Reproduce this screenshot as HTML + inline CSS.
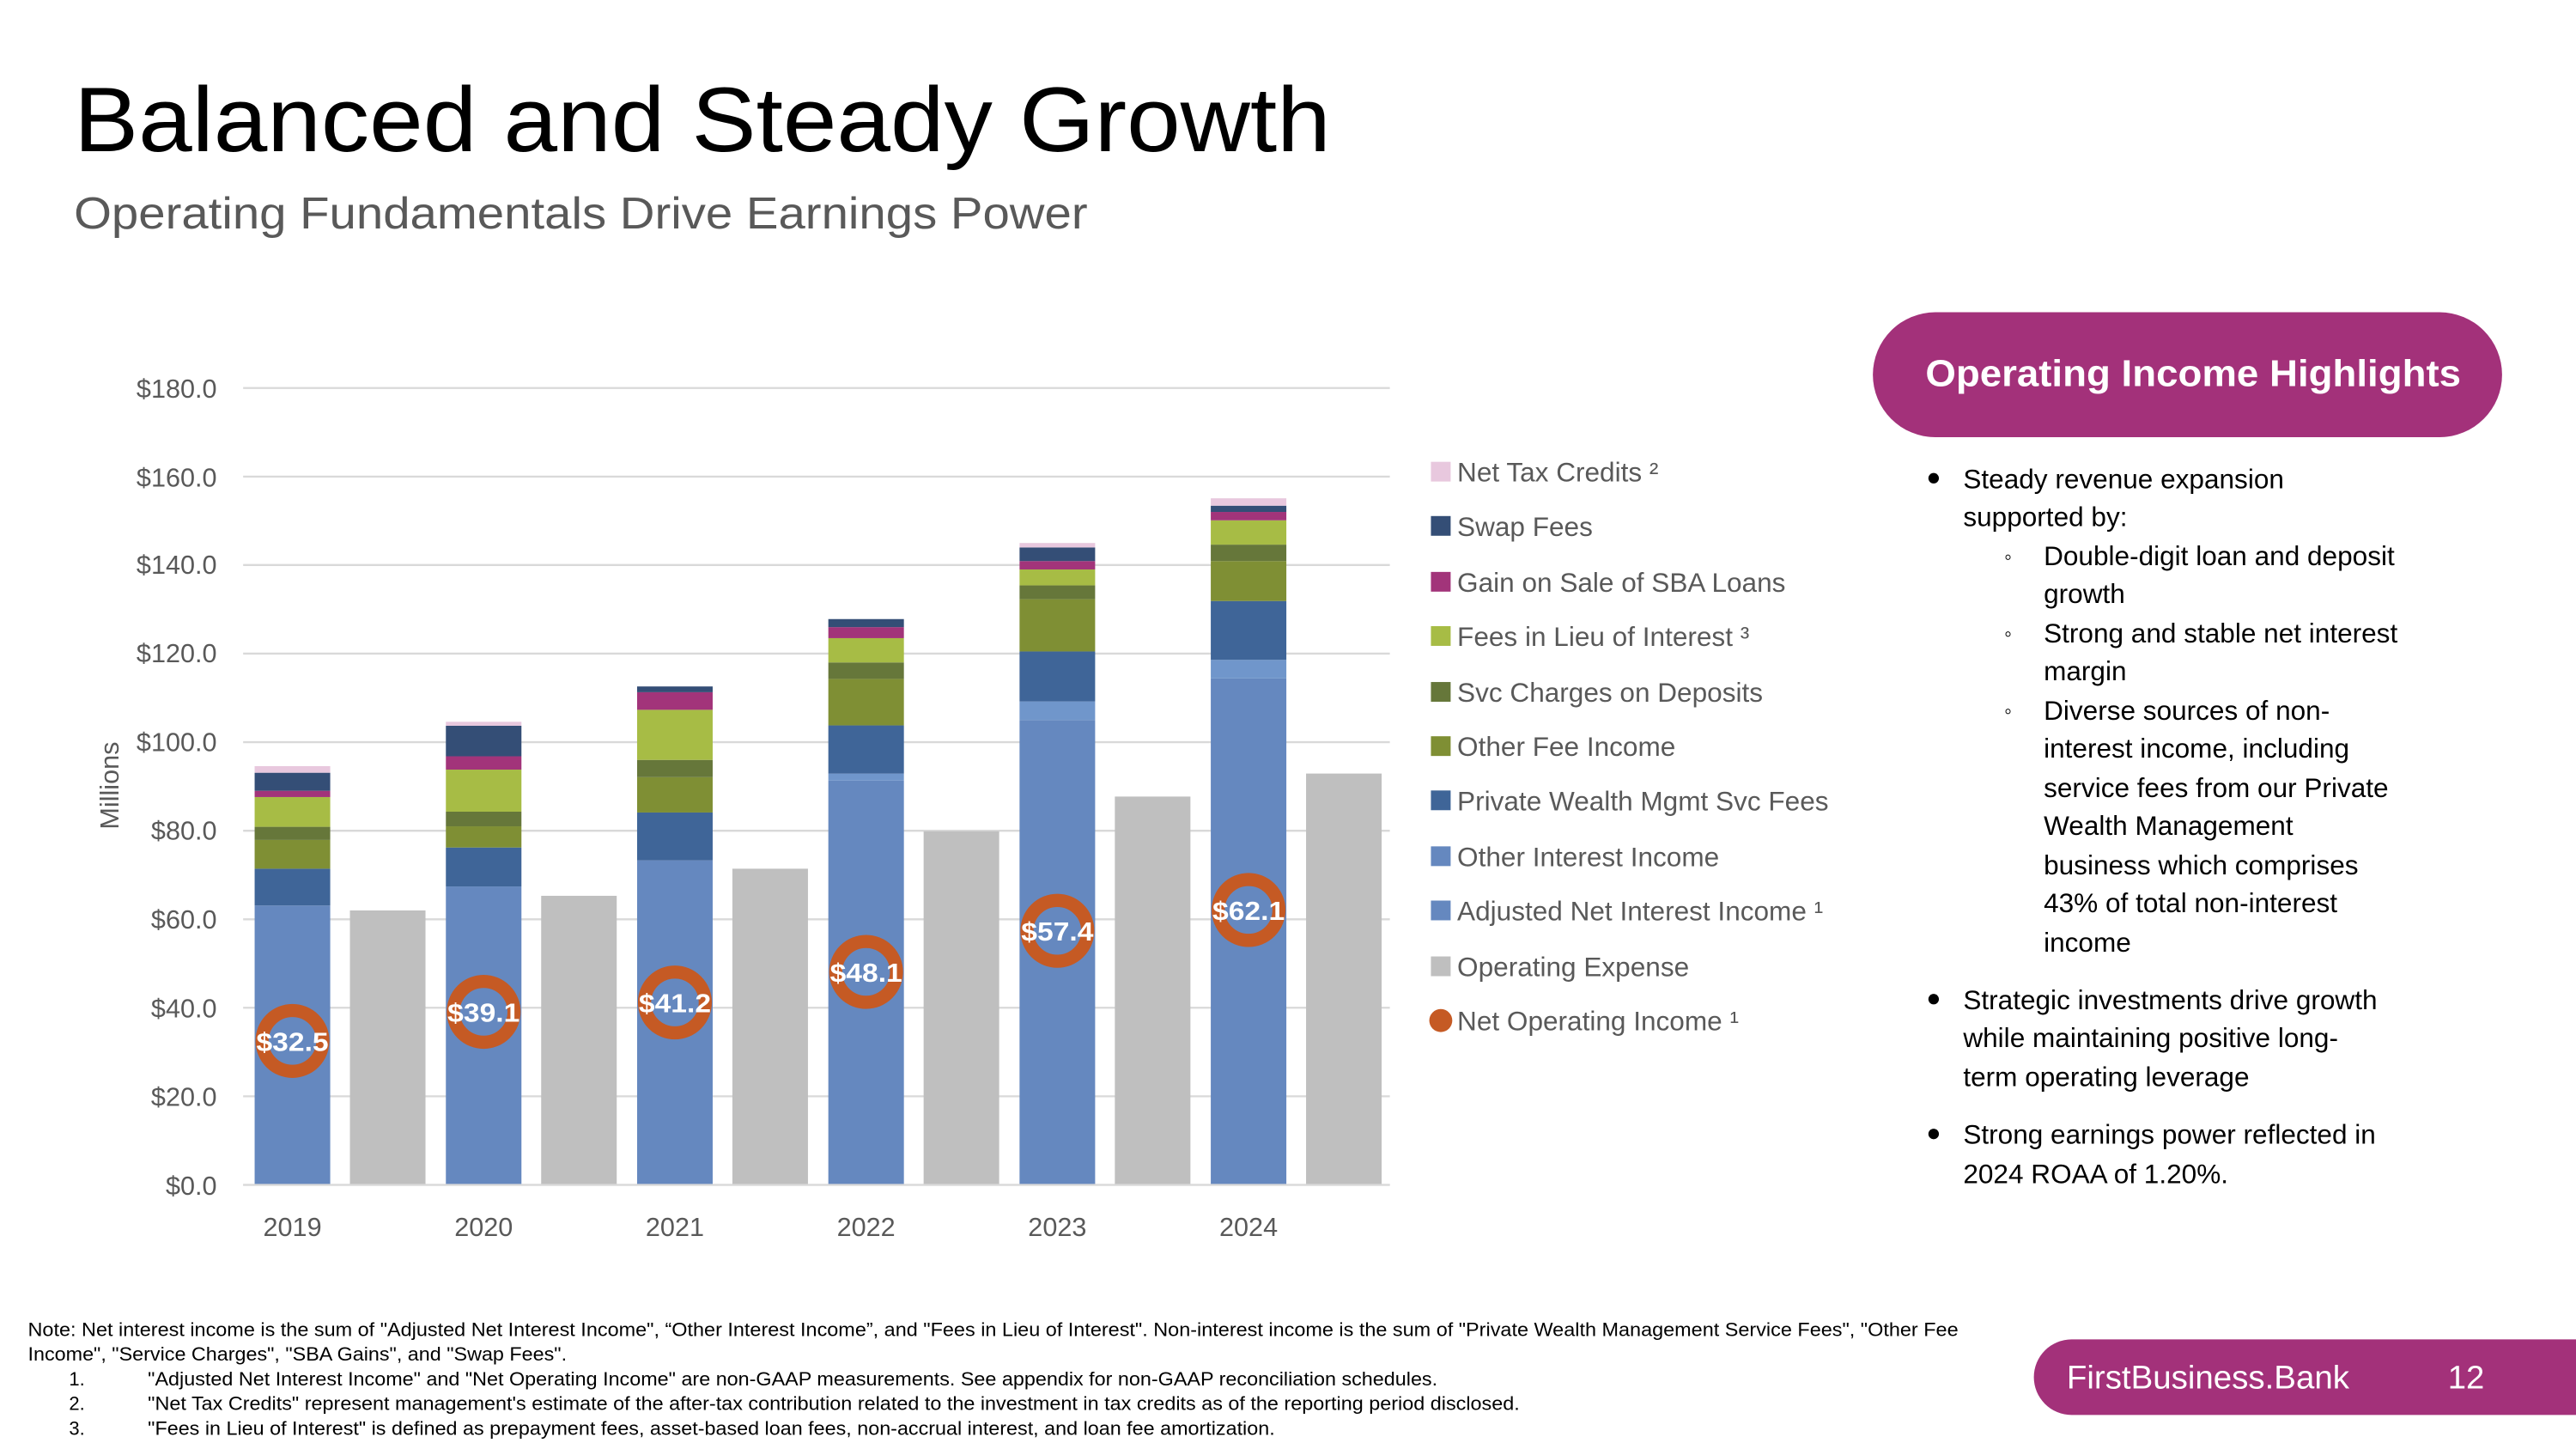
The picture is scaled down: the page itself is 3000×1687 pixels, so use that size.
<!DOCTYPE html>
<html><head><meta charset="utf-8"><style>
html,body{margin:0;padding:0;background:#fff;}
svg{display:block;}
text{font-family:"Liberation Sans",sans-serif;}
</style></head><body>
<svg width="3000" height="1687" viewBox="0 0 1568 881.7" xmlns="http://www.w3.org/2000/svg">
<rect width="1568" height="882" fill="#fff"/>
<text x="45" y="92" font-size="56" fill="#000" textLength="765" lengthAdjust="spacingAndGlyphs">Balanced and Steady Growth</text>
<text x="45" y="139" font-size="27" fill="#595959" textLength="617" lengthAdjust="spacingAndGlyphs">Operating Fundamentals Drive Earnings Power</text>

<g stroke="#d9d9d9" stroke-width="1.2">
<line x1="148" x2="846" y1="667.1" y2="667.1"/><line x1="148" x2="846" y1="613.2" y2="613.2"/>
<line x1="148" x2="846" y1="559.4" y2="559.4"/><line x1="148" x2="846" y1="505.5" y2="505.5"/>
<line x1="148" x2="846" y1="451.6" y2="451.6"/><line x1="148" x2="846" y1="397.7" y2="397.7"/>
<line x1="148" x2="846" y1="343.8" y2="343.8"/><line x1="148" x2="846" y1="290" y2="290"/>
<line x1="148" x2="846" y1="236.1" y2="236.1"/><line x1="148" x2="846" y1="721" y2="721"/>
</g>
<g font-size="16" fill="#595959" text-anchor="end">
<text x="132" y="727">$0.0</text><text x="132" y="673">$20.0</text><text x="132" y="619">$40.0</text>
<text x="132" y="565">$60.0</text><text x="132" y="511">$80.0</text><text x="132" y="457">$100.0</text>
<text x="132" y="403">$120.0</text><text x="132" y="349">$140.0</text><text x="132" y="296">$160.0</text>
<text x="132" y="242">$180.0</text>
</g>
<text transform="translate(72,478) rotate(-90)" font-size="16" fill="#595959" text-anchor="middle">Millions</text>
<g font-size="16" fill="#595959" text-anchor="middle">
<text x="178" y="752">2019</text><text x="294.4" y="752">2020</text><text x="410.8" y="752">2021</text>
<text x="527.2" y="752">2022</text><text x="643.6" y="752">2023</text><text x="760" y="752">2024</text>
</g>

<g>
<rect x="155" y="551" width="46" height="170" fill="#6588BF"/>
<rect x="155" y="528.6" width="46" height="22.4" fill="#3F6598"/>
<rect x="155" y="511.1" width="46" height="17.5" fill="#7F8F34"/>
<rect x="155" y="503.1" width="46" height="8" fill="#66773A"/>
<rect x="155" y="485" width="46" height="18.1" fill="#A7BC45"/>
<rect x="155" y="481.2" width="46" height="3.8" fill="#A2347A"/>
<rect x="155" y="470.2" width="46" height="11" fill="#344E76"/>
<rect x="155" y="466.2" width="46" height="4" fill="#E8C8DE"/>
<rect x="271.4" y="539.4" width="46" height="181.6" fill="#6588BF"/>
<rect x="271.4" y="515.7" width="46" height="23.7" fill="#3F6598"/>
<rect x="271.4" y="502.8" width="46" height="12.9" fill="#7F8F34"/>
<rect x="271.4" y="493.9" width="46" height="8.9" fill="#66773A"/>
<rect x="271.4" y="468.3" width="46" height="25.6" fill="#A7BC45"/>
<rect x="271.4" y="460.2" width="46" height="8.1" fill="#A2347A"/>
<rect x="271.4" y="441.6" width="46" height="18.6" fill="#344E76"/>
<rect x="271.4" y="439.2" width="46" height="2.4" fill="#E8C8DE"/>
<rect x="387.8" y="523.5" width="46" height="197.5" fill="#6588BF"/>
<rect x="387.8" y="494.4" width="46" height="29.1" fill="#3F6598"/>
<rect x="387.8" y="472.9" width="46" height="21.5" fill="#7F8F34"/>
<rect x="387.8" y="462.4" width="46" height="10.5" fill="#66773A"/>
<rect x="387.8" y="431.9" width="46" height="30.5" fill="#A7BC45"/>
<rect x="387.8" y="421.2" width="46" height="10.7" fill="#A2347A"/>
<rect x="387.8" y="417.7" width="46" height="3.5" fill="#344E76"/>
<rect x="504.2" y="475" width="46" height="246" fill="#6588BF"/>
<rect x="504.2" y="470.7" width="46" height="4.3" fill="#7096CB"/>
<rect x="504.2" y="441.4" width="46" height="29.3" fill="#3F6598"/>
<rect x="504.2" y="413.1" width="46" height="28.3" fill="#7F8F34"/>
<rect x="504.2" y="403.1" width="46" height="10" fill="#66773A"/>
<rect x="504.2" y="388.3" width="46" height="14.8" fill="#A7BC45"/>
<rect x="504.2" y="381.6" width="46" height="6.7" fill="#A2347A"/>
<rect x="504.2" y="376.7" width="46" height="4.9" fill="#344E76"/>
<rect x="620.6" y="438.1" width="46" height="282.9" fill="#6588BF"/>
<rect x="620.6" y="426.8" width="46" height="11.3" fill="#7096CB"/>
<rect x="620.6" y="396.4" width="46" height="30.4" fill="#3F6598"/>
<rect x="620.6" y="364.6" width="46" height="31.8" fill="#7F8F34"/>
<rect x="620.6" y="356.2" width="46" height="8.4" fill="#66773A"/>
<rect x="620.6" y="346.5" width="46" height="9.7" fill="#A7BC45"/>
<rect x="620.6" y="341.4" width="46" height="5.1" fill="#A2347A"/>
<rect x="620.6" y="333.1" width="46" height="8.3" fill="#344E76"/>
<rect x="620.6" y="330.4" width="46" height="2.7" fill="#E8C8DE"/>
<rect x="737" y="412.8" width="46" height="308.2" fill="#6588BF"/>
<rect x="737" y="401.5" width="46" height="11.3" fill="#7096CB"/>
<rect x="737" y="365.7" width="46" height="35.8" fill="#3F6598"/>
<rect x="737" y="341.4" width="46" height="24.3" fill="#7F8F34"/>
<rect x="737" y="331.4" width="46" height="10" fill="#66773A"/>
<rect x="737" y="316.6" width="46" height="14.8" fill="#A7BC45"/>
<rect x="737" y="311.5" width="46" height="5.1" fill="#A2347A"/>
<rect x="737" y="307.7" width="46" height="3.8" fill="#344E76"/>
<rect x="737" y="303.2" width="46" height="4.5" fill="#E8C8DE"/>
<rect x="213" y="554" width="46" height="167" fill="#BFBFBF"/>
<rect x="329.4" y="545.1" width="46" height="175.9" fill="#BFBFBF"/>
<rect x="445.8" y="528.6" width="46" height="192.4" fill="#BFBFBF"/>
<rect x="562.2" y="505.8" width="46" height="215.2" fill="#BFBFBF"/>
<rect x="678.6" y="484.7" width="46" height="236.3" fill="#BFBFBF"/>
<rect x="795" y="470.7" width="46" height="250.3" fill="#BFBFBF"/>
</g>
<line x1="148" x2="846" y1="721" y2="721" stroke="#d9d9d9" stroke-width="1.2"/>

<g fill="none" stroke="#C55A24" stroke-width="8">
<circle cx="178" cy="633.4" r="18.5"/><circle cx="294.4" cy="615.7" r="18.5"/>
<circle cx="410.8" cy="610" r="18.5"/><circle cx="527.2" cy="591.4" r="18.5"/>
<circle cx="643.6" cy="566.4" r="18.5"/><circle cx="760" cy="553.7" r="18.5"/>
</g>
<g font-size="16" font-weight="bold" fill="#fff" text-anchor="middle">
<text x="178" y="639.4" textLength="44" lengthAdjust="spacingAndGlyphs">$32.5</text>
<text x="294.4" y="621.7" textLength="44" lengthAdjust="spacingAndGlyphs">$39.1</text>
<text x="410.8" y="616" textLength="44" lengthAdjust="spacingAndGlyphs">$41.2</text>
<text x="527.2" y="597.4" textLength="44" lengthAdjust="spacingAndGlyphs">$48.1</text>
<text x="643.6" y="572.4" textLength="44" lengthAdjust="spacingAndGlyphs">$57.4</text>
<text x="760" y="559.7" textLength="44" lengthAdjust="spacingAndGlyphs">$62.1</text>
</g>

<g font-size="16.5" fill="#595959">
<rect x="871" y="281" width="12" height="12" fill="#E8C8DE"/><text x="887" y="293">Net Tax Credits ²</text>
<rect x="871" y="314" width="12" height="12" fill="#344E76"/><text x="887" y="326">Swap Fees</text>
<rect x="871" y="348" width="12" height="12" fill="#A2347A"/><text x="887" y="360">Gain on Sale of SBA Loans</text>
<rect x="871" y="381" width="12" height="12" fill="#A7BC45"/><text x="887" y="393">Fees in Lieu of Interest ³</text>
<rect x="871" y="415" width="12" height="12" fill="#66773A"/><text x="887" y="427">Svc Charges on Deposits</text>
<rect x="871" y="448" width="12" height="12" fill="#7F8F34"/><text x="887" y="460">Other Fee Income</text>
<rect x="871" y="481" width="12" height="12" fill="#3F6598"/><text x="887" y="493">Private Wealth Mgmt Svc Fees</text>
<rect x="871" y="515" width="12" height="12" fill="#6588BF"/><text x="887" y="527">Other Interest Income</text>
<rect x="871" y="548" width="12" height="12" fill="#6588BF"/><text x="887" y="560">Adjusted Net Interest Income ¹</text>
<rect x="871" y="582" width="12" height="12" fill="#BFBFBF"/><text x="887" y="594">Operating Expense</text>
<circle cx="877" cy="621" r="7" fill="#C55A24"/><text x="887" y="627">Net Operating Income ¹</text>
</g>

<rect x="1140" y="190" width="383" height="76" rx="38" fill="#A3317A"/>
<text x="1335" y="235" font-size="23" font-weight="bold" fill="#fff" text-anchor="middle" textLength="326" lengthAdjust="spacingAndGlyphs">Operating Income Highlights</text>
<g font-size="16.5" fill="#000">
<circle cx="1177" cy="291" r="3.2"/>
<text x="1195" y="297">Steady revenue expansion</text>
<text x="1195" y="320">supported by:</text>
<text x="1220" y="343" font-size="13">◦</text><text x="1244" y="344">Double-digit loan and deposit</text>
<text x="1244" y="367">growth</text>
<text x="1220" y="390" font-size="13">◦</text><text x="1244" y="391">Strong and stable net interest</text>
<text x="1244" y="414">margin</text>
<text x="1220" y="437" font-size="13">◦</text><text x="1244" y="438">Diverse sources of non-</text>
<text x="1244" y="461">interest income, including</text>
<text x="1244" y="485">service fees from our Private</text>
<text x="1244" y="508">Wealth Management</text>
<text x="1244" y="532">business which comprises</text>
<text x="1244" y="555">43% of total non-interest</text>
<text x="1244" y="579">income</text>
<circle cx="1177" cy="608" r="3.2"/>
<text x="1195" y="614">Strategic investments drive growth</text>
<text x="1195" y="637">while maintaining positive long-</text>
<text x="1195" y="661">term operating leverage</text>
<circle cx="1177" cy="690" r="3.2"/>
<text x="1195" y="696">Strong earnings power reflected in</text>
<text x="1195" y="720">2024 ROAA of 1.20%.</text>
</g>

<g font-size="11.5" fill="#000">
<text x="17" y="813" textLength="1175" lengthAdjust="spacingAndGlyphs">Note: Net interest income is the sum of "Adjusted Net Interest Income", “Other Interest Income”, and "Fees in Lieu of Interest". Non-interest income is the sum of "Private Wealth Management Service Fees", "Other Fee</text>
<text x="17" y="828" textLength="328" lengthAdjust="spacingAndGlyphs">Income", "Service Charges", "SBA Gains", and "Swap Fees".</text>
<text x="42" y="843">1.</text><text x="90" y="843" textLength="785" lengthAdjust="spacingAndGlyphs">"Adjusted Net Interest Income" and "Net Operating Income" are non-GAAP measurements. See appendix for non-GAAP reconciliation schedules.</text>
<text x="42" y="858">2.</text><text x="90" y="858" textLength="835" lengthAdjust="spacingAndGlyphs">"Net Tax Credits" represent management's estimate of the after-tax contribution related to the investment in tax credits as of the reporting period disclosed.</text>
<text x="42" y="873">3.</text><text x="90" y="873" textLength="686" lengthAdjust="spacingAndGlyphs">"Fees in Lieu of Interest" is defined as prepayment fees, asset-based loan fees, non-accrual interest, and loan fee amortization.</text>
</g>

<path d="M1261,815 H1575 V861 H1261 A23,23 0 0 1 1261,815 Z" fill="#A3317A"/>
<text x="1258" y="845" font-size="20" fill="#fff" textLength="172" lengthAdjust="spacingAndGlyphs">FirstBusiness.Bank</text>
<text x="1490" y="845" font-size="20" fill="#fff">12</text>
</svg>
</body></html>
